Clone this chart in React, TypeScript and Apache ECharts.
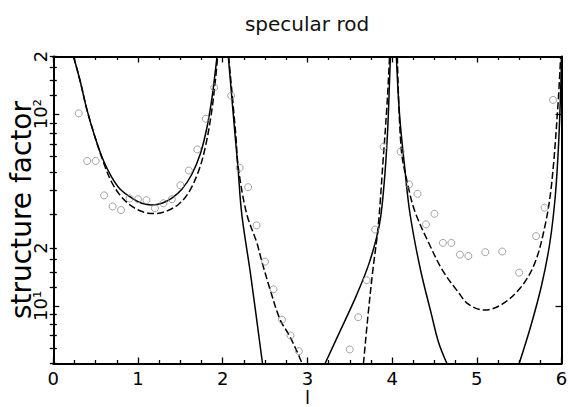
import React, { useEffect, useRef } from "react";
import * as echarts from "echarts";

const titleText = "specular rod";
const xAxisName = "l";
const yAxisName = "structure factor";

const yLabelValues = [10, 20, 100, 200];
const yLabelTexts = ["10¹", "2", "10²", "2"];
const yMajorTicks = [10, 100];
const yMinorTicks = [5, 6, 7, 8, 9, 12.5, 15, 17.5, 20, 30, 40, 50, 60, 70, 80, 90, 125, 150, 175, 200];

// measured points (l, intensity)
const measuredL = [0.3, 0.4, 0.5, 0.6, 0.7, 0.8, 0.9, 1.0, 1.1, 1.2, 1.3, 1.4, 1.5, 1.6, 1.7, 1.8, 1.9,
  2.1, 2.2, 2.3, 2.4, 2.5, 2.6, 2.7, 2.8, 2.9, 3.5, 3.6, 3.7, 3.8, 3.9,
  4.1, 4.2, 4.3, 4.4, 4.5, 4.6, 4.7, 4.8, 4.9, 5.1, 5.3, 5.5, 5.7, 5.8, 5.9];
const measuredI = [101, 57, 57, 37.7, 33, 31.6, 36.3, 36, 35.6, 32.3, 34.3, 36, 42.6, 50.8, 65.5, 94.6, 138,
  125, 52.5, 41.6, 26.3, 17.0, 12.2, 8.46, 7.0, 5.8, 5.92, 8.72, 13.6, 25.0, 67.6,
  63.7, 43.0, 38.4, 26.6, 30.2, 21.3, 21.3, 18.5, 18.2, 19.05, 19.2, 14.9, 23.1, 32.5, 118.7];

// solid model curve, segments between the Bragg peaks
const solidSeg1 = [[0.239, 200], [0.317, 149], [0.396, 106], [0.494, 75.6], [0.593, 57.1], [0.691, 46.8], [0.79, 40.6], [0.928, 36.5], [1.046, 34.3], [1.164, 33.6], [1.282, 34.3], [1.4, 36.5], [1.518, 40.6], [1.636, 48.6], [1.735, 61.9], [1.814, 85.2], [1.874, 122], [1.913, 168], [1.933, 200]];
const solidSeg2 = [[2.066, 200], [2.145, 78.7], [2.18, 52.7], [2.225, 30.1], [2.33, 14.5], [2.47, 5]];
const solidSeg3 = [[3.209, 5], [3.387, 7.4], [3.574, 11.2], [3.731, 16.8], [3.85, 26.5], [3.907, 44], [3.946, 80], [3.969, 146], [3.98, 200]];
const solidSeg4 = [[4.05, 200], [4.089, 98], [4.147, 53.7], [4.21, 30.5], [4.33, 15.8], [4.465, 9.0], [4.549, 6.44], [4.647, 5]];
const solidSeg5 = [[5.5, 5], [5.636, 7.8], [5.765, 12.8], [5.863, 21.4], [5.928, 38], [5.967, 72], [5.993, 146], [6.0, 200]];

// dashed model curve
const dashedSeg1 = [[0.239, 200], [0.317, 149], [0.396, 106], [0.494, 75.6], [0.593, 56], [0.691, 44.0], [0.81, 36.8], [0.948, 32.6], [1.085, 30.7], [1.203, 30.3], [1.342, 31.3], [1.48, 33.9], [1.598, 39.0], [1.716, 50.6], [1.794, 67.1], [1.865, 100], [1.913, 149], [1.94, 200]];
const dashedSeg2 = [[2.07, 200], [2.154, 78.7], [2.184, 52.7], [2.284, 30.1], [2.402, 21.4], [2.461, 17.1], [2.559, 12.2], [2.677, 8.48], [2.784, 7.03], [2.874, 5.82], [2.937, 5]];
const dashedSeg3 = [[3.662, 5], [3.715, 8.86], [3.77, 15], [3.836, 26], [3.892, 56], [3.94, 112], [3.97, 200]];
const dashedSeg4 = [[4.062, 200], [4.108, 65.7], [4.19, 42], [4.27, 31], [4.43, 21.4], [4.6, 15.2], [4.78, 11.8], [4.9, 10.2], [5.09, 9.5], [5.3, 10.2], [5.52, 12.5], [5.68, 16.5], [5.8, 25.5], [5.88, 42], [5.955, 106], [5.99, 200]];

const solidSegments = [solidSeg1, solidSeg2, solidSeg3, solidSeg4, solidSeg5];
const dashedSegments = [dashedSeg1, dashedSeg2, dashedSeg3, dashedSeg4];

const FONT = "DejaVu Sans";

export default function App() {
  const ref = useRef<HTMLDivElement>(null);
  useEffect(() => {
    if (!ref.current) return;
    const chart = echarts.init(ref.current, null, { renderer: "svg" });
    const toRaw = (v: number) => (v < 4 ? Math.pow(10, v) : v);
    const fmt = (v: number) => {
      const r = toRaw(v);
      const i = yLabelValues.findIndex((t) => Math.abs(t - r) / t < 1e-4);
      return i >= 0 ? yLabelTexts[i] : "";
    };
    const axisLine = { show: true, onZero: false, lineStyle: { color: "#000", width: 2 } };
    const tickStyle = { color: "#000", width: 1.3 };
    const xBase = {
      type: "value" as const,
      min: 0,
      max: 6,
      interval: 1,
      splitLine: { show: false },
      axisLine,
      axisTick: { show: true, inside: true, length: 6, lineStyle: tickStyle },
      minorTick: { show: true, splitNumber: 4, length: 3.5, lineStyle: tickStyle },
    };
    const yBase = {
      type: "log" as const,
      logBase: 10,
      min: 5,
      max: 200,
      splitLine: { show: false },
      nameMoveOverlap: false,
    };
    const series: any[] = [];
    solidSegments.forEach((seg) =>
      series.push({
        type: "line",
        data: seg,
        showSymbol: false,
        smooth: 0.35,
        lineStyle: { color: "#000", width: 1.5, type: "solid" },
        silent: true,
        z: 3,
      })
    );
    dashedSegments.forEach((seg) =>
      series.push({
        type: "line",
        data: seg,
        showSymbol: false,
        smooth: 0.35,
        lineStyle: { color: "#000", width: 1.5, type: [7, 3] },
        silent: true,
        z: 3,
      })
    );
    series.push({
      type: "scatter",
      data: measuredL.map((l, i) => [l, measuredI[i]]),
      symbol: "circle",
      symbolSize: 7,
      itemStyle: { color: "rgba(255,255,255,0)", borderColor: "#8c8c8c", borderWidth: 1 },
      z: 4,
    });
    chart.setOption({
      animation: false,
      backgroundColor: "#fff",
      title: {
        text: titleText,
        left: 302,
        top: 9,
        textAlign: "center",
        textStyle: { fontFamily: FONT, fontSize: 20, fontWeight: "normal", color: "#111" },
      },
      grid: { left: 53.3, right: 8.5, top: 56.5, bottom: 43.5, containLabel: false, outerBoundsMode: "none" },
      xAxis: [
        {
          ...xBase,
          position: "bottom",
          name: xAxisName,
          nameLocation: "middle",
          nameGap: 25,
          nameMoveOverlap: false,
          nameTextStyle: { fontFamily: FONT, fontSize: 18, color: "#000" },
          axisLabel: { show: true, fontFamily: FONT, fontSize: 18, color: "#000", margin: 6 },
        },
        {
          ...xBase,
          position: "top",
          axisLabel: { show: false },
        },
      ],
      yAxis: [
        {
          ...yBase,
          position: "left",
          name: yAxisName,
          nameLocation: "middle",
          nameGap: 18,
          nameTextStyle: { fontFamily: FONT, fontSize: 28, color: "#000" },
          axisLine,
          axisTick: { show: true, inside: true, length: 6, lineStyle: tickStyle, customValues: yMajorTicks },
          axisLabel: {
            show: true,
            rotate: 90,
            margin: 4,
            fontFamily: FONT,
            fontSize: 18,
            color: "#000",
            customValues: yLabelValues,
            formatter: fmt,
          },
        },
        {
          ...yBase,
          position: "left",
          axisLine: { show: false },
          axisTick: { show: true, inside: true, length: 3.5, lineStyle: tickStyle, customValues: yMinorTicks },
          axisLabel: { show: false },
        },
        {
          ...yBase,
          position: "right",
          axisLine,
          axisTick: { show: true, inside: true, length: 6, lineStyle: tickStyle, customValues: yMajorTicks },
          axisLabel: { show: false },
        },
        {
          ...yBase,
          position: "right",
          axisLine: { show: false },
          axisTick: { show: true, inside: true, length: 3.5, lineStyle: tickStyle, customValues: yMinorTicks },
          axisLabel: { show: false },
        },
      ],
      series,
    });
    return () => chart.dispose();
  }, []);
  return (
    <div
      ref={ref}
      style={{ position: "fixed", left: 0, top: 0, width: 570, height: 407, background: "#fff" }}
    />
  );
}
